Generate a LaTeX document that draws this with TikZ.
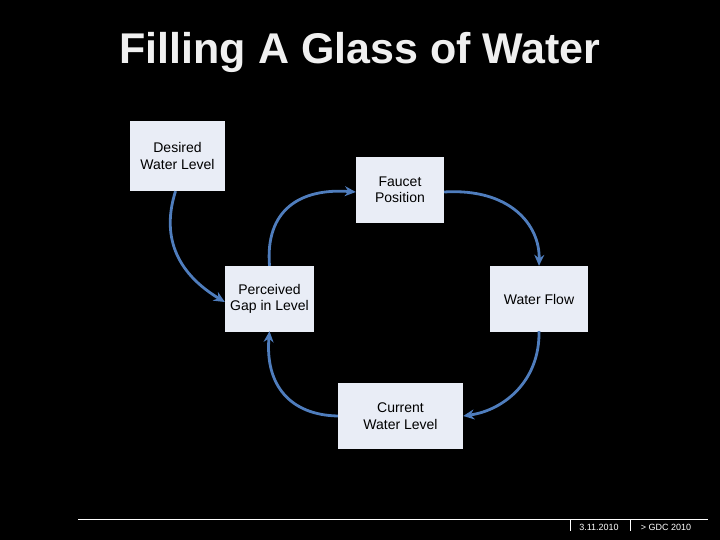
\documentclass[tikz,border=0pt]{standalone}
\usepackage{fontspec}
\setmainfont{Liberation Sans}
\usetikzlibrary{arrows.meta}
\definecolor{boxc}{HTML}{E9EDF6}
\definecolor{arr}{HTML}{4F7DBD}
\tikzset{box/.style={fill=boxc,draw=none,align=center,font=\fontsize{14}{16.5}\selectfont,inner sep=0pt},
 conn/.style={draw=arr,line width=2.8pt,-{Stealth[length=11pt,width=10pt]}},
 foot/.style={font=\fontsize{9}{10}\selectfont,text=white}}
\begin{document}
\begin{tikzpicture}[x=1pt,y=-1pt]
\fill[black] (0,0) rectangle (720,540);
\useasboundingbox (0,0) rectangle (720,540);
\node[font=\bfseries\fontsize{43}{48}\selectfont,text=white!94!black] (title) at (360,52) {Filling A Glass of Water};
\node[box,minimum width=95pt,minimum height=70pt] (d) at (177.5,156) {Desired\\Water Level};
\node[box,minimum width=88pt,minimum height=66pt] (f) at (400,190) {Faucet\\Position};
\node[box,minimum width=98pt,minimum height=66pt] (w) at (539,299) {Water Flow};
\node[box,minimum width=89pt,minimum height=66pt] (p) at (269.5,299) {Perceived\\Gap in Level};
\node[box,minimum width=125pt,minimum height=66pt] (c) at (400.5,416) {Current\\Water Level};
\draw[conn] ([xshift=-2pt]d.south) .. controls (160,240) and (180,275) .. ([yshift=-3pt]p.west);
\draw[conn] (p.north) .. controls (265,210) and (300,188) .. ([yshift=-2pt]f.west);
\draw[conn] ([yshift=-2pt]f.east) .. controls (510,188) and (540,225) .. (w.north);
\draw[conn] ([yshift=1pt]w.south) .. controls (540,380) and (505,410) .. (c.east);
\draw[conn] (c.west) .. controls (290,415) and (265,385) .. ([yshift=1pt]p.south);
\coordinate (l1) at (78,519); \coordinate (l2) at (708,519);
\draw[white,line width=0.8pt] (l1) -- (l2);
\coordinate (t1) at (570,519); \coordinate (t1b) at (570,531);
\coordinate (t2) at (630,519); \coordinate (t2b) at (630,531);
\draw[white,line width=0.8pt] (t1) -- (t1b) (t2) -- (t2b);
\node[foot] (date) at (599,527) {3.11.2010};
\node[foot] (gdc) at (666,527) {> GDC 2010};
\end{tikzpicture}
\end{document}
